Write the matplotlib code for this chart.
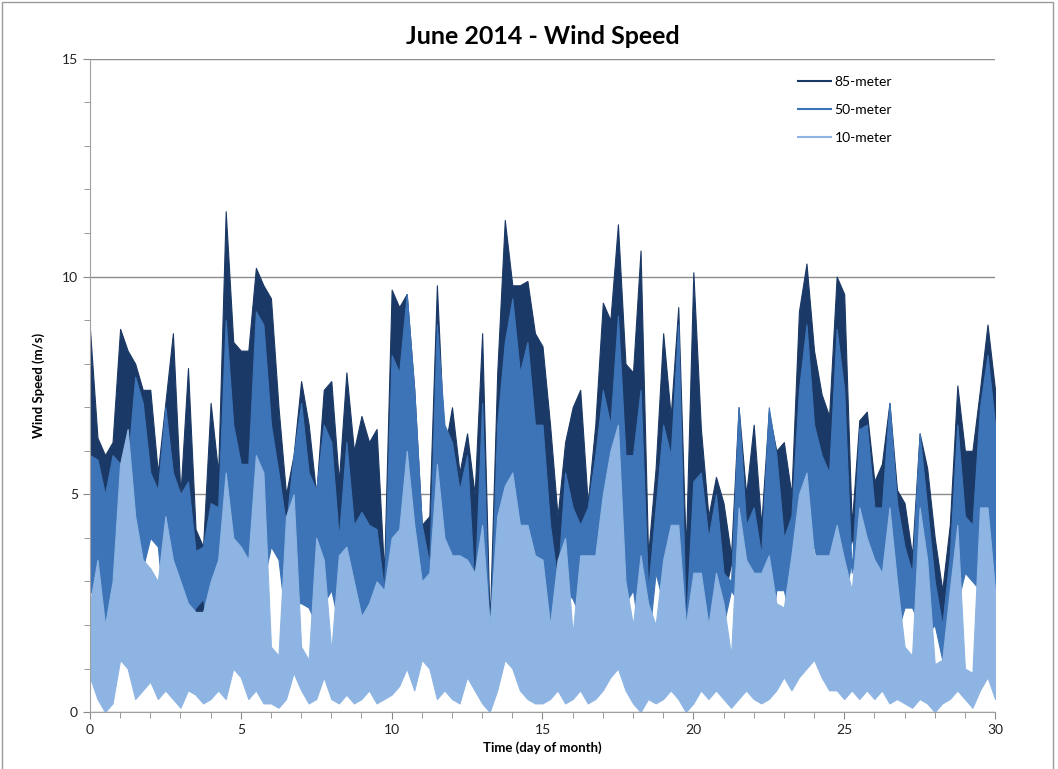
import numpy as np
import matplotlib.pyplot as plt
from matplotlib.lines import Line2D
from matplotlib.ticker import MultipleLocator

# sample positions (day of month), every quarter day
days = np.arange(0, 30.01, 0.25)

# upper / lower envelopes, m/s
hi_85 = [8.8, 6.3, 5.9, 6.2, 8.8, 8.3, 8.0, 7.4, 7.4, 5.5, 7.1, 8.7, 5.0, 7.9, 4.2, 3.8, 7.1, 5.5, 11.5, 8.5,
         8.3, 8.3, 10.2, 9.8, 9.5, 7.0, 5.0, 5.9, 7.6, 6.6, 5.0, 7.4, 7.6, 5.3, 7.8, 6.0, 6.8, 6.2, 6.5, 3.2,
         9.7, 9.3, 9.6, 7.4, 4.3, 4.5, 9.8, 6.0, 7.0, 5.5, 6.4, 5.0, 8.7, 2.0, 7.8, 11.3, 9.8, 9.8, 9.9, 8.7,
         8.4, 6.6, 4.5, 6.2, 7.0, 7.4, 4.8, 6.6, 9.4, 9.0, 11.2, 8.0, 7.8, 10.6, 3.6, 5.6, 8.7, 6.8, 9.3, 3.7,
         10.1, 6.5, 4.5, 5.4, 4.8, 3.6, 7.0, 5.0, 6.6, 4.3, 6.9, 6.0, 6.2, 5.0, 9.2, 10.3, 8.3, 7.3, 6.8, 10.0,
         9.6, 4.3, 6.7, 6.9, 5.3, 5.7, 7.1, 5.1, 4.8, 3.6, 6.4, 5.6, 4.0, 2.8, 4.3, 7.5, 6.0, 6.0, 7.4, 8.9,
         7.4]
lo_85 = [3.5, 3.2, 2.8, 3.5, 4.0, 3.8, 3.2, 4.0, 4.5, 4.2, 2.8, 2.8, 2.2, 2.5, 1.8, 1.6, 2.2, 2.2, 3.2, 2.8,
         3.2, 3.8, 4.2, 3.8, 4.5, 4.2, 2.8, 3.2, 3.2, 3.0, 2.6, 3.2, 3.5, 2.6, 3.2, 2.2, 1.8, 2.2, 2.2, 1.8,
         2.2, 3.8, 4.2, 3.2, 2.6, 2.2, 3.2, 3.2, 2.6, 2.8, 2.6, 1.8, 2.2, 1.2, 2.6, 3.8, 4.2, 3.8, 3.2, 2.6,
         2.0, 2.4, 3.2, 3.5, 3.3, 2.8, 2.6, 3.2, 3.8, 4.0, 4.2, 3.2, 3.5, 2.0, 2.0, 3.8, 3.2, 3.2, 2.6, 1.2,
         2.0, 3.2, 2.6, 2.6, 2.6, 3.4, 3.2, 2.8, 2.6, 2.6, 2.0, 3.4, 3.4, 2.6, 3.2, 4.2, 4.5, 3.8, 3.2, 3.2,
         3.2, 4.0, 3.2, 3.2, 2.6, 2.6, 3.2, 2.4, 3.0, 3.0, 2.6, 2.4, 2.4, 1.6, 2.0, 3.2, 3.8, 3.6, 3.5, 3.8,
         2.6]
hi_50 = [5.9, 5.8, 5.0, 5.9, 5.7, 5.7, 7.7, 7.1, 5.5, 5.1, 7.0, 5.5, 5.0, 5.3, 3.7, 3.8, 4.8, 4.7, 9.0, 6.6,
         5.7, 5.7, 9.2, 8.9, 6.6, 5.5, 4.3, 5.9, 7.1, 5.5, 5.1, 6.6, 6.2, 4.0, 6.2, 4.3, 4.6, 4.3, 4.2, 2.8,
         8.2, 7.8, 9.6, 7.4, 4.3, 3.4, 8.9, 6.6, 6.2, 5.1, 5.9, 2.8, 7.1, 1.5, 6.6, 8.5, 9.5, 7.8, 8.5, 6.6,
         6.6, 4.3, 3.0, 5.5, 4.7, 4.3, 4.7, 5.9, 7.4, 6.6, 9.1, 5.9, 5.9, 7.4, 2.8, 4.7, 6.6, 5.9, 8.9, 2.0,
         5.3, 5.5, 4.0, 5.0, 3.2, 3.0, 7.0, 4.3, 4.7, 3.6, 7.0, 5.9, 4.0, 4.5, 7.4, 8.9, 6.6, 5.9, 5.5, 8.8,
         7.4, 3.2, 6.5, 6.6, 4.7, 4.7, 7.1, 4.8, 3.8, 3.2, 6.4, 4.7, 3.0, 2.0, 3.6, 6.6, 4.5, 4.3, 7.0, 8.2,
         6.6]
lo_50 = [2.8, 2.5, 2.0, 2.8, 3.2, 3.0, 2.5, 3.3, 4.0, 3.8, 2.0, 2.0, 1.5, 2.0, 2.4, 2.6, 1.5, 1.5, 2.5, 2.0,
         2.5, 3.0, 3.5, 3.0, 3.8, 3.5, 2.0, 2.5, 2.5, 2.4, 2.0, 2.5, 2.8, 2.0, 2.5, 1.5, 1.2, 1.5, 1.5, 1.2,
         1.5, 3.0, 3.5, 2.5, 2.0, 1.5, 2.5, 2.5, 2.0, 2.2, 2.0, 1.2, 1.5, 0.8, 2.0, 3.0, 3.5, 3.0, 2.5, 2.0,
         1.5, 1.8, 2.5, 2.8, 2.6, 2.2, 2.0, 2.5, 3.0, 3.2, 3.5, 2.5, 2.8, 1.5, 1.5, 3.2, 2.5, 2.5, 2.0, 0.8,
         1.5, 2.5, 2.0, 2.0, 2.0, 2.8, 2.5, 2.2, 2.0, 2.0, 1.5, 2.8, 2.8, 2.0, 2.5, 3.5, 3.8, 3.0, 2.5, 2.5,
         2.5, 3.5, 2.5, 2.5, 2.0, 2.0, 2.5, 1.8, 2.4, 2.4, 2.0, 1.8, 2.0, 1.2, 1.5, 2.5, 3.2, 3.0, 2.8, 3.0,
         2.0]
hi_10 = [2.5, 3.5, 2.0, 3.0, 5.7, 6.5, 4.5, 3.5, 3.3, 3.0, 4.5, 3.5, 3.0, 2.5, 2.3, 2.3, 3.0, 3.5, 5.5, 4.0,
         3.8, 3.5, 5.9, 5.5, 1.5, 1.3, 4.5, 5.0, 1.5, 1.2, 4.0, 3.5, 1.4, 3.6, 3.8, 3.0, 2.2, 2.5, 3.0, 2.8,
         4.0, 4.2, 6.0, 4.3, 3.0, 3.2, 5.7, 4.0, 3.6, 3.6, 3.5, 3.2, 4.3, 2.0, 4.5, 5.2, 5.5, 4.3, 4.3, 3.6,
         3.5, 2.0, 3.5, 4.0, 1.8, 3.6, 3.6, 3.6, 5.0, 6.0, 6.6, 3.0, 2.0, 3.6, 2.5, 2.0, 3.5, 4.3, 4.3, 2.0,
         3.2, 3.2, 2.0, 3.2, 2.5, 1.3, 4.7, 3.5, 3.2, 3.2, 3.6, 2.5, 2.4, 3.6, 5.0, 5.5, 3.6, 3.6, 3.6, 4.3,
         3.5, 2.8, 4.7, 4.0, 3.5, 3.2, 4.7, 3.0, 1.5, 1.3, 4.7, 3.5, 1.1, 1.2, 2.8, 4.3, 1.0, 0.9, 4.7, 4.7,
         2.8]
lo_10 = [0.8, 0.3, 0.0, 0.2, 1.2, 1.0, 0.3, 0.5, 0.7, 0.3, 0.5, 0.3, 0.1, 0.5, 0.4, 0.2, 0.3, 0.5, 0.3, 1.0,
         0.8, 0.3, 0.5, 0.2, 0.2, 0.1, 0.3, 0.9, 0.5, 0.2, 0.3, 0.8, 0.3, 0.2, 0.4, 0.2, 0.3, 0.5, 0.2, 0.3,
         0.4, 0.6, 1.0, 0.5, 1.2, 1.0, 0.3, 0.5, 0.3, 0.2, 0.8, 0.5, 0.2, 0.0, 0.5, 1.2, 1.0, 0.5, 0.3, 0.2,
         0.2, 0.3, 0.5, 0.2, 0.3, 0.5, 0.2, 0.3, 0.5, 0.8, 1.0, 0.5, 0.2, 0.0, 0.3, 0.2, 0.3, 0.5, 0.3, 0.0,
         0.2, 0.5, 0.3, 0.5, 0.3, 0.1, 0.3, 0.5, 0.3, 0.2, 0.3, 0.5, 0.8, 0.5, 0.8, 1.0, 1.2, 0.8, 0.5, 0.5,
         0.3, 0.5, 0.3, 0.5, 0.3, 0.5, 0.2, 0.3, 0.2, 0.1, 0.3, 0.2, 0.0, 0.2, 0.3, 0.5, 0.3, 0.1, 0.5, 0.8,
         0.3]

series = [
    ("85-meter", hi_85, lo_85, "#1b3966"),
    ("50-meter", hi_50, lo_50, "#3d74b7"),
    ("10-meter", hi_10, lo_10, "#8db4e2"),
]

plt.rcParams["font.family"] = ["Lato", "DejaVu Sans"]

fig = plt.figure(figsize=(10.58, 7.69), dpi=100)
ax = fig.add_axes([0.085, 0.074, 0.8555, 0.8495])

for name, hi, lo, color in series:
    ax.fill_between(days, lo, hi, color=color, linewidth=0.8, edgecolor=color)

ax.set_xlim(0, 30)
ax.set_ylim(0, 15)
ax.xaxis.set_major_locator(MultipleLocator(5))
ax.xaxis.set_minor_locator(MultipleLocator(1))
ax.yaxis.set_major_locator(MultipleLocator(5))
ax.yaxis.set_minor_locator(MultipleLocator(1))
ax.tick_params(which="both", direction="out", colors="#888888", labelcolor="#222222", labelsize=10)
ax.tick_params(which="major", length=5)
ax.tick_params(which="minor", length=4)

ax.set_axisbelow(True)
ax.grid(axis="y", which="major", color="#8c8c8c", linewidth=1)
for side in ["top", "right"]:
    ax.spines[side].set_visible(False)
for side in ["left", "bottom"]:
    ax.spines[side].set_color("#a0a0a0")

ax.set_title("June 2014 - Wind Speed", fontsize=18, fontweight="bold", pad=11)
ax.set_xlabel("Time (day of month)", fontsize=9.5, fontweight="bold", labelpad=4)
ax.set_ylabel("Wind Speed (m/s)", fontsize=9.5, fontweight="bold", labelpad=12)

handles = [Line2D([0], [0], color=c, linewidth=1.5) for _, _, _, c in series]
ax.legend(handles, [s[0] for s in series], loc="upper right", bbox_to_anchor=(0.90, 0.993),
          frameon=False, fontsize=10, handlelength=2.4, handletextpad=0.25, labelspacing=1.15)

# thin grey border round the chart area
fig.patches.append(plt.Rectangle((0.002, -0.01), 0.993, 1.007, transform=fig.transFigure,
                                 fill=False, edgecolor="#9a9a9a", linewidth=1))

fig.savefig("out.png", dpi=100)
